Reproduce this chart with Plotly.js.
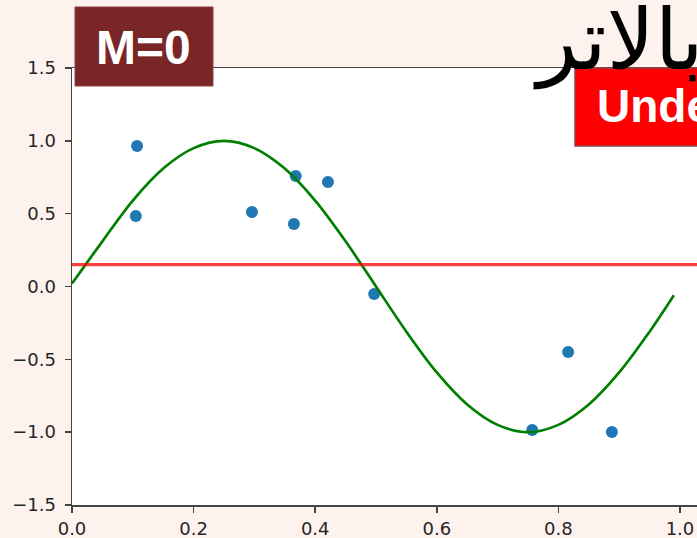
<!DOCTYPE html>
<html>
<head>
<meta charset="utf-8">
<script src="https://cdn.plot.ly/plotly-3.0.1.min.js"></script>
<style>
html,body{margin:0;padding:0;background:#fdf2ed;}
#chart{width:697px;height:538px;}
</style>
</head>
<body>
<div id="chart"></div>
<script>
// Observed noisy samples
const sampleX = [0.107, 0.105, 0.296, 0.368, 0.365, 0.421, 0.497, 0.757, 0.816, 0.888];
const sampleY = [0.964, 0.484, 0.511, 0.758, 0.429, 0.717, -0.051, -0.985, -0.449, -0.999];

// True curve (green)
const curveX = [0, 0.05, 0.10, 0.15, 0.20, 0.25, 0.30, 0.35, 0.40, 0.45, 0.50, 0.55, 0.60, 0.65, 0.70, 0.75, 0.80, 0.85, 0.90, 0.95, 0.99];
const curveY = [0.02, 0.31, 0.59, 0.81, 0.95, 1.00, 0.95, 0.81, 0.59, 0.31, 0.00, -0.31, -0.59, -0.81, -0.95, -1.00, -0.95, -0.81, -0.59, -0.31, -0.06];

// M=0 fit (constant, red)
const fitX = [0, 1.03];
const fitY = [0.15, 0.15];

// Tick values
const xTicks = [0.0, 0.2, 0.4, 0.6, 0.8, 1.0];
const yTicks = [-1.5, -1.0, -0.5, 0.0, 0.5, 1.0, 1.5];

const traces = [
  {x: sampleX, y: sampleY, type: 'scatter', mode: 'markers',
   marker: {color: '#1f77b4', size: 12}, hoverinfo: 'skip'},
  {x: curveX, y: curveY, type: 'scatter', mode: 'lines',
   line: {color: 'green', width: 2.7, shape: 'spline'}, hoverinfo: 'skip'},
  {x: fitX, y: fitY, type: 'scatter', mode: 'lines',
   line: {color: 'rgba(255,0,0,0.75)', width: 3.2}, hoverinfo: 'skip'}
];

const axisCommon = {
  showgrid: false, zeroline: false, showline: true,
  linecolor: '#444', linewidth: 1.5,
  ticks: 'outside', ticklen: 6, tickwidth: 1.5, tickcolor: '#444',
  tickfont: {family: 'DejaVu Sans', size: 18, color: '#262626'},
  tickformat: '.1f'
};

const layout = {
  width: 697, height: 538,
  margin: {l: 72, r: 0, t: 68, b: 33, pad: 0},
  paper_bgcolor: '#fdf2ed',
  plot_bgcolor: '#ffffff',
  showlegend: false,
  xaxis: Object.assign({}, axisCommon, {range: [0, 1.028], tickvals: xTicks, mirror: true, ticklabelstandoff: 1}),
  yaxis: Object.assign({}, axisCommon, {range: [-1.5, 1.5], tickvals: yTicks, ticklabelstandoff: 5}),
  shapes: [
    {type: 'rect', xref: 'paper', yref: 'paper', x0: 0.0048, x1: 0.2256, y0: 0.9588, y1: 1.1396,
     fillcolor: '#7b2626', line: {color: '#8a4040', width: 1}, layer: 'above'},
    {type: 'rect', xref: 'paper', yref: 'paper', x0: 0.8048, x1: 1.02, y0: 0.8215, y1: 1.0,
     fillcolor: '#ff0000', line: {color: '#8b4545', width: 1.5}, layer: 'above'}
  ],
  annotations: [
    {xref: 'paper', yref: 'paper', x: 0.1136, y: 1.048, xanchor: 'center', yanchor: 'middle',
     text: 'M=0', showarrow: false,
     font: {family: 'Liberation Sans', size: 48, color: '#ffffff', weight: 'bold'}},
    {xref: 'paper', yref: 'paper', x: 0.8368, y: 0.912, xanchor: 'left', yanchor: 'middle',
     text: 'Underfitting', showarrow: false,
     font: {family: 'Liberation Sans', size: 46, color: '#ffffff', weight: 'bold'}},
    {xref: 'paper', yref: 'paper', x: 0.735, y: 1.18, xanchor: 'left', yanchor: 'top',
     text: 'بالاتر', showarrow: false,
     font: {family: 'DejaVu Sans', size: 84, color: '#000000'}}
  ]
};

Plotly.newPlot('chart', traces, layout, {displayModeBar: false, staticPlot: true});
</script>
</body>
</html>
